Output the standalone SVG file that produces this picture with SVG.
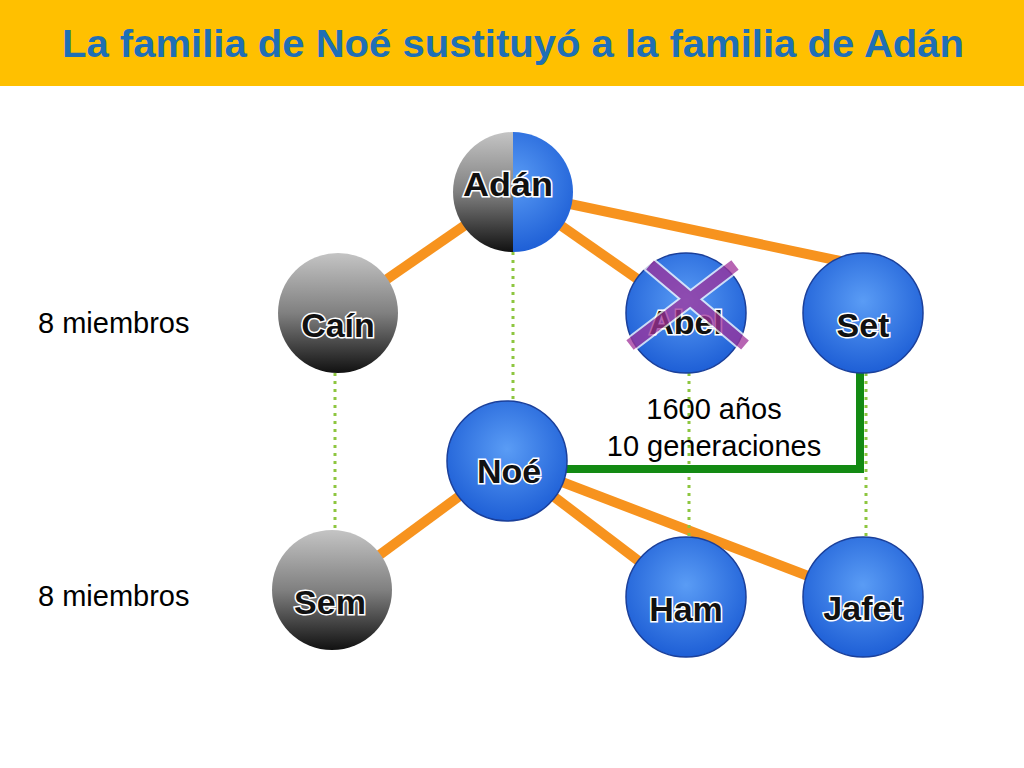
<svg xmlns="http://www.w3.org/2000/svg" width="1024" height="768" viewBox="0 0 1024 768">
<defs>
<radialGradient id="blue" cx="0.5" cy="0.4" r="0.6"><stop offset="0" stop-color="#5a9cf5"/><stop offset="1" stop-color="#1e5fd6"/></radialGradient>
<linearGradient id="gray" x1="0" y1="0" x2="0" y2="1"><stop offset="0" stop-color="#c4c4c4"/><stop offset="0.5" stop-color="#808080"/><stop offset="1" stop-color="#111"/></linearGradient>
<clipPath id="lh"><rect x="450" y="130" width="63" height="125"/></clipPath>
<clipPath id="rh"><rect x="513" y="130" width="63" height="125"/></clipPath>
</defs>
<style>
.n{stroke:#1a3f9a;stroke-width:1.5}
.lbl{font-family:"Liberation Sans",Arial,sans-serif;font-weight:bold;font-size:34px;text-anchor:middle;fill:#111;stroke:#fff;stroke-width:3;paint-order:stroke}
.t{font-family:"Liberation Sans",Arial,sans-serif;font-size:29px;fill:#000}
.o{stroke:#f7931e;stroke-width:10;fill:none}
.d{stroke:#8dc63f;stroke-width:3;stroke-dasharray:3 5;fill:none}
</style>
<rect x="0" y="0" width="1024" height="86" fill="#ffc000"/>
<text x="513" y="57" font-family="Liberation Sans,Arial,sans-serif" font-size="38" font-weight="bold" fill="#1f6fb5" text-anchor="middle" textLength="902" lengthAdjust="spacingAndGlyphs">La familia de Noé sustituyó a la familia de Adán</text>
<g id="connectors">
<line class="o" x1="513" y1="192" x2="338" y2="313"/>
<line class="o" x1="513" y1="192" x2="686" y2="313"/>
<line class="o" x1="513" y1="192" x2="845" y2="262"/>
<line class="o" x1="507" y1="461" x2="332" y2="590"/>
<line class="o" x1="507" y1="461" x2="686" y2="597"/>
<line class="o" x1="507" y1="461" x2="863" y2="597"/>
<line class="d" x1="513" y1="252" x2="513" y2="401"/>
<line class="d" x1="335" y1="373" x2="335" y2="530"/>
<line class="d" x1="689" y1="373" x2="689" y2="537"/>
<line class="d" x1="866" y1="373" x2="866" y2="537"/>
<polyline points="560,469 860,469 860,373" fill="none" stroke="#138a13" stroke-width="8"/>
</g>
<g id="adan">
<circle cx="513" cy="192" r="60" fill="url(#gray)" clip-path="url(#lh)"/>
<circle cx="513" cy="192" r="60" fill="url(#blue)" clip-path="url(#rh)"/>
<text class="lbl" x="508" y="196" textLength="90" lengthAdjust="spacingAndGlyphs">Adán</text>
</g>
<g id="cain"><circle cx="338" cy="313" r="60" fill="url(#gray)"/><text class="lbl" x="338" y="337">Caín</text></g>
<g id="abel"><circle cx="686" cy="313" r="60" fill="url(#blue)" class="n"/><text class="lbl" x="686" y="334">Abel</text>
<g opacity="0.75">
<path d="M650,265 L745,345 M735,265 L630,345" stroke="#fff" stroke-width="16" fill="none" stroke-linecap="round"/>
<path d="M650,265 L745,345 M735,265 L630,345" stroke="#a0329a" stroke-width="12" fill="none"/>
</g>
</g>
<g id="set"><circle cx="863" cy="313" r="60" fill="url(#blue)" class="n"/><text class="lbl" x="863" y="337">Set</text></g>
<g id="noe"><circle cx="507" cy="461" r="60" fill="url(#blue)" class="n"/><text class="lbl" x="509" y="483">Noé</text></g>
<g id="sem"><circle cx="332" cy="590" r="60" fill="url(#gray)"/><text class="lbl" x="330" y="614">Sem</text></g>
<g id="ham"><circle cx="686" cy="597" r="60" fill="url(#blue)" class="n"/><text class="lbl" x="686" y="621">Ham</text></g>
<g id="jafet"><circle cx="863" cy="597" r="60" fill="url(#blue)" class="n"/><text class="lbl" x="863" y="620">Jafet</text></g>
<text class="t" x="38" y="333">8 miembros</text>
<text class="t" x="38" y="606">8 miembros</text>
<text class="t" x="714" y="419" text-anchor="middle">1600 años</text>
<text class="t" x="714" y="456" text-anchor="middle">10 generaciones</text>
</svg>
